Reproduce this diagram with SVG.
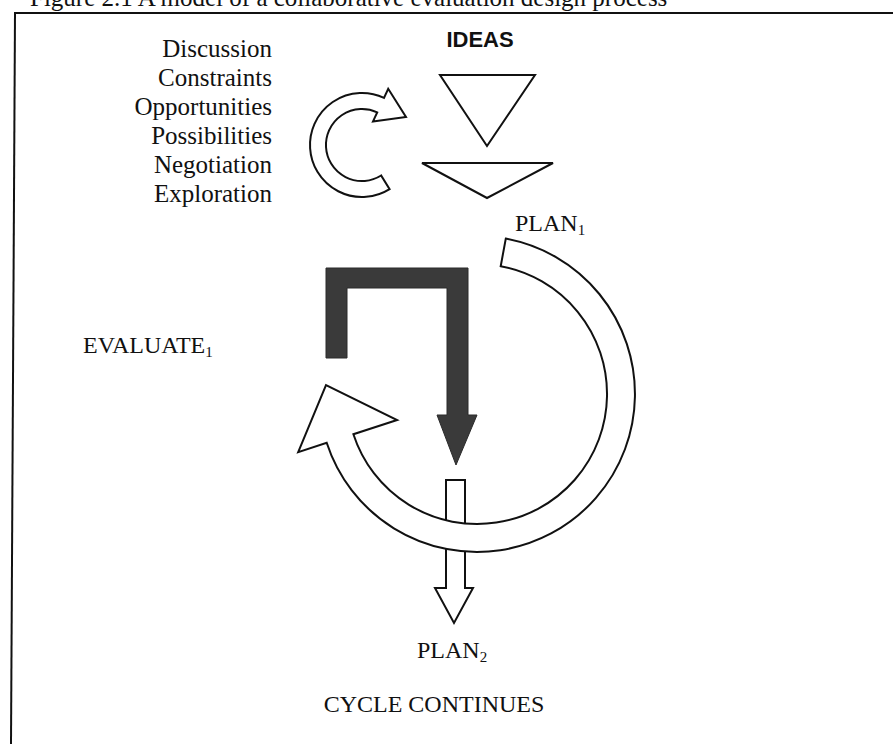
<svg xmlns="http://www.w3.org/2000/svg" width="893" height="744" viewBox="0 0 893 744">
<style>
.serif{font-family:"Liberation Serif","Times New Roman",serif;fill:#111}
.list{font-size:25px;text-anchor:end}
.lbl{font-size:24px}
.sub{font-size:15px}
.ideas{font-family:"Liberation Sans",Arial,sans-serif;font-weight:bold;font-size:22px;fill:#111;text-anchor:middle}
.hollow{fill:#fff;stroke:#111;stroke-width:2;stroke-linejoin:miter}
.dark{fill:#3a3a3a;stroke:#2a2a2a;stroke-width:1}
</style>
<rect width="893" height="744" fill="#fff"/>
<g id="frame">
<text class="serif" x="30" y="6" font-size="25">Figure 2.1  A model of a collaborative evaluation design process</text>
<line x1="14" y1="13" x2="893" y2="13" stroke="#111" stroke-width="2"/>
<line x1="15" y1="13" x2="11" y2="744" stroke="#111" stroke-width="2"/>
</g>
<g id="list">
<text class="serif list" x="272" y="57">Discussion</text>
<text class="serif list" x="272" y="86">Constraints</text>
<text class="serif list" x="272" y="115">Opportunities</text>
<text class="serif list" x="272" y="144">Possibilities</text>
<text class="serif list" x="272" y="173">Negotiation</text>
<text class="serif list" x="272" y="202">Exploration</text>
</g>
<g id="ideas">
<text class="ideas" x="480" y="47">IDEAS</text>
<polygon class="hollow" points="440,75 535,75 487,146"/>
<polygon class="hollow" points="422,163 553,163 487,198"/>
</g>
<g id="labels">
<text class="serif lbl" x="515" y="231">PLAN<tspan class="sub" dy="4">1</tspan></text>
<text class="serif lbl" x="83" y="353">EVALUATE<tspan class="sub" dy="4">1</tspan></text>
<text class="serif lbl" x="417" y="658">PLAN<tspan class="sub" dy="4">2</tspan></text>
<text class="serif lbl" x="434" y="712" text-anchor="middle">CYCLE CONTINUES</text>
</g>
<g id="connectors">
<path class="hollow" d="M389.6,189.1 A52,52 0 1 1 384,97.9 L388.2,88.8 L406,117 L373,121.4 L377.2,112.4 A36,36 0 1 0 381.1,175.5 Z"/>
<path class="dark" d="M326,268 L468,268 L468,415 L477,415 L456,465 L437,415 L447,415 L447,288 L347,288 L347,358 L326,358 Z"/>
<path class="hollow" d="M446,480 L465,480 L465,588 L473,588 L454,623 L435,588 L446,588 Z"/>
<path class="hollow" d="M505.8,238.6 A158,158 0 1 1 326.7,442.8 L298.2,452.1 L326,385 L397.1,420 L353.4,434.2 A130,130 0 1 0 500.7,266.2 Z"/>
</g>
</svg>
